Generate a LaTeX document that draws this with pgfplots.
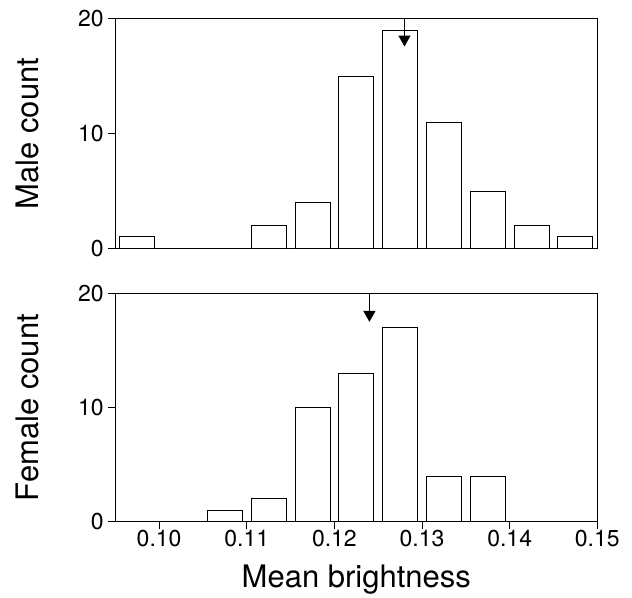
\documentclass[border=0pt]{standalone}
\usepackage{fontspec}
\setmainfont{TeX Gyre Heros}
\usepackage{pgfplots}
\pgfplotsset{compat=1.18}
\usetikzlibrary{arrows.meta}
\begin{document}
\begin{tikzpicture}
\pgfplotsset{
  hist/.style={
    scale only axis,
    width=482pt,
    xmin=0.095, xmax=0.15,
    ymin=0, ymax=20,
    ytick={0,10,20},
    axis line style={line width=1pt, black},
    tick style={line width=1pt, black},
    major tick length=7pt,
    tick align=outside,
    xtick pos=bottom, ytick pos=left,
    /pgf/number format/assume math mode=true,
    ticklabel style={font=\fontsize{23}{25}\selectfont},
    yticklabel style={anchor=east, xshift=-1pt},
    label style={font=\fontsize{31}{34}\selectfont},
    ylabel style={at={(axis description cs:-0.183,0.5)}, rotate=0, anchor=center},
  },
  barst/.style={ybar, bar width=0.004, bar shift=0pt, draw=black, fill=white, line width=0.9pt},
  arr/.style={sharp plot, draw=black, line width=1.6pt, -{Triangle[length=11pt,width=12pt]}},
}
\begin{axis}[hist, at={(0pt,273.4pt)}, height=229.3pt,
  xtick=\empty, ylabel={Male count}]
\addplot[barst] coordinates {(0.0975,1) (0.1125,2) (0.1175,4) (0.1225,15) (0.1275,19) (0.1325,11) (0.1375,5) (0.1425,2) (0.1475,1)};
\addplot[arr] coordinates {(0.128,20) (0.128,17.6)};
\end{axis}
\begin{axis}[hist, at={(0pt,0pt)}, height=228.4pt,
  xtick={0.10,0.11,0.12,0.13,0.14,0.15},
  xticklabels={0.10,0.11,0.12,0.13,0.14,0.15},
  xticklabel style={anchor=base, yshift=-18pt},
  xlabel={Mean brightness},
  xlabel style={at={(axis description cs:0.5,0)}, anchor=base, yshift=-65.3pt},
  ylabel={Female count}]
\addplot[barst] coordinates {(0.1075,1) (0.1125,2) (0.1175,10) (0.1225,13) (0.1275,17) (0.1325,4) (0.1375,4)};
\addplot[arr] coordinates {(0.124,20) (0.124,17.5)};
\end{axis}
\path[use as bounding box] (-115.3pt,-70.3pt) rectangle (516.7pt,521.7pt);
\end{tikzpicture}
\end{document}
